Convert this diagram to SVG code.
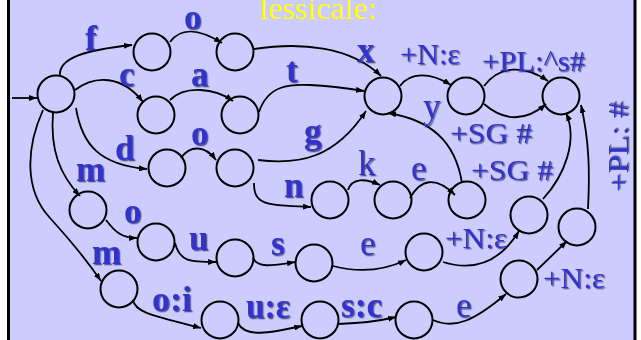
<svg xmlns="http://www.w3.org/2000/svg" width="641" height="340" viewBox="0 0 641 340">
<style>
.st{fill:none;stroke:#000;stroke-width:2}
.e{fill:none;stroke:#000;stroke-width:1.8;marker-end:url(#ah)}
.lb{font-family:"Liberation Serif","Times New Roman",serif;font-size:35px;fill:#3333cc;filter:url(#sh)}
.b{font-weight:bold}
.sm{font-size:29px}
.ttl{font-family:"Liberation Serif","Times New Roman",serif;font-size:32px;fill:#ffff00}
</style>
<defs>
<marker id="ah" markerUnits="userSpaceOnUse" markerWidth="8" markerHeight="6" refX="8" refY="3" orient="auto">
<path d="M0,0 L8,3 L0,6 z" fill="#000"/>
</marker>
<filter id="sh" x="-20%" y="-20%" width="140%" height="140%">
<feDropShadow dx="1.3" dy="1.3" stdDeviation="0.4" flood-color="#222244" flood-opacity="0.7"/>
</filter>
</defs>
<rect x="0" y="0" width="641" height="340" fill="#ffffff"/>
<rect x="8.5" y="-10" width="626.5" height="360" fill="#ccccff" stroke="#000" stroke-width="3"/>
<text class="ttl" x="259" y="19">lessicale:</text>

<g id="nodes">
<g id="n-start"><circle class="st" cx="56" cy="94" r="18.5"/></g>
<g id="n-f1"><circle class="st" cx="152" cy="52" r="18.5"/></g>
<g id="n-f2"><circle class="st" cx="235" cy="52" r="18.5"/></g>
<g id="n-c1"><circle class="st" cx="156" cy="115" r="18.5"/></g>
<g id="n-c2"><circle class="st" cx="240" cy="115" r="18.5"/></g>
<g id="n-d1"><circle class="st" cx="167" cy="168" r="18.5"/></g>
<g id="n-d2"><circle class="st" cx="235" cy="168" r="18.5"/></g>
<g id="n-hub"><circle class="st" cx="383" cy="96" r="18.5"/></g>
<g id="n-n1"><circle class="st" cx="466" cy="96" r="18.5"/></g>
<g id="n-final"><circle class="st" cx="561" cy="96" r="18.5"/></g>
<g id="n-k1"><circle class="st" cx="330" cy="200" r="18.5"/></g>
<g id="n-k2"><circle class="st" cx="393" cy="200" r="18.5"/></g>
<g id="n-k3"><circle class="st" cx="467" cy="200" r="18.5"/></g>
<g id="n-m1"><circle class="st" cx="88" cy="210" r="18.5"/></g>
<g id="n-m2"><circle class="st" cx="156" cy="242" r="18.5"/></g>
<g id="n-m3"><circle class="st" cx="235" cy="258" r="18.5"/></g>
<g id="n-m4"><circle class="st" cx="314" cy="263" r="18.5"/></g>
<g id="n-m5"><circle class="st" cx="424" cy="252" r="18.5"/></g>
<g id="n-m6"><circle class="st" cx="529" cy="215" r="18.5"/></g>
<g id="n-l1"><circle class="st" cx="119" cy="289" r="18.5"/></g>
<g id="n-l2"><circle class="st" cx="220" cy="320" r="18.5"/></g>
<g id="n-l3"><circle class="st" cx="320" cy="320" r="18.5"/></g>
<g id="n-l4"><circle class="st" cx="414" cy="320" r="18.5"/></g>
<g id="n-l5"><circle class="st" cx="519" cy="279" r="18.5"/></g>
<g id="n-l6"><circle class="st" cx="577" cy="227" r="18.5"/></g>
</g>

<g id="connectors">
<path class="e" d="M12,98 L37,98"/>
<path class="e" d="M60,76 C58,58 85,50 132,45"/>
<path class="e" d="M170,42 C180,28 198,28 222,43"/>
<path class="e" d="M254,49 C300,42 350,46 381,76"/>
<path class="e" d="M75,90 C95,75 122,75 143,102"/>
<path class="e" d="M170,100 C185,85 215,88 233,101"/>
<path class="e" d="M259,112 C268,85 290,84 310,85 C330,86 345,88 364,91"/>
<path class="e" d="M76,108 C82,145 100,165 147,169"/>
<path class="e" d="M181,158 C190,145 205,145 216,160"/>
<path class="e" d="M258,160 C300,165 335,158 366,111"/>
<path class="e" d="M254,183 C254,205 265,205 311,207"/>
<path class="e" d="M348,190 C352,178 365,178 380,185"/>
<path class="e" d="M410,198 C420,180 435,175 455,195"/>
<path class="e" d="M462,183 C455,140 430,120 388,113"/>
<path class="e" d="M400,86 C410,72 430,72 451,85"/>
<path class="e" d="M484,86 C500,65 525,65 548,81"/>
<path class="e" d="M484,104 C505,122 525,122 546,104"/>
<path class="e" d="M543,199 C565,175 578,140 566,113"/>
<path class="e" d="M588,209 C590,170 589,140 581,105"/>
<path class="e" d="M53,113 C50,150 60,175 80,196"/>
<path class="e" d="M43,110 C26,148 24,190 50,218 C70,240 88,262 101,281"/>
<path class="e" d="M106,220 C115,232 122,238 137,238"/>
<path class="e" d="M175,243 C180,262 190,262 216,262"/>
<path class="e" d="M253,258 C258,268 270,266 295,262"/>
<path class="e" d="M333,266 C360,273 385,270 406,260"/>
<path class="e" d="M443,262 C475,272 500,262 519,231"/>
<path class="e" d="M133,300 C135,312 150,315 201,328"/>
<path class="e" d="M238,323 C245,338 270,333 302,326"/>
<path class="e" d="M338,324 C360,323 375,322 396,317"/>
<path class="e" d="M433,320 C455,330 475,320 506,294"/>
<path class="e" d="M537,270 L567,241"/>
</g>

<g id="labels">
<text class="lb b" x="85" y="50">f</text>
<text class="lb b" x="184" y="29">o</text>
<text class="lb b" x="119" y="86">c</text>
<text class="lb b" x="191" y="86">a</text>
<text class="lb b" x="286" y="82">t</text>
<text class="lb b" x="357" y="62">x</text>
<text class="lb sm" x="400" y="64" textLength="60" lengthAdjust="spacingAndGlyphs">+N:ε</text>
<text class="lb sm" x="482" y="71" textLength="103" lengthAdjust="spacingAndGlyphs">+PL:^s#</text>
<text class="lb" x="423" y="118">y</text>
<text class="lb sm" x="450" y="143" textLength="82" lengthAdjust="spacingAndGlyphs">+SG #</text>
<text class="lb sm" x="471" y="180" textLength="82" lengthAdjust="spacingAndGlyphs">+SG #</text>
<text class="lb sm" transform="translate(628,192) rotate(-90)" x="0" y="0" textLength="90" lengthAdjust="spacingAndGlyphs">+PL: #</text>
<text class="lb b" x="115" y="160">d</text>
<text class="lb b" x="191" y="145">o</text>
<text class="lb b" x="304" y="143">g</text>
<text class="lb b" x="76" y="181">m</text>
<text class="lb b" x="284" y="197">n</text>
<text class="lb" x="358" y="175">k</text>
<text class="lb" x="411" y="180">e</text>
<text class="lb b" x="124" y="223">o</text>
<text class="lb b" x="189" y="250">u</text>
<text class="lb b" x="271" y="255">s</text>
<text class="lb" x="360" y="255">e</text>
<text class="lb sm" x="445" y="248" textLength="62" lengthAdjust="spacingAndGlyphs">+N:ε</text>
<text class="lb b" x="92" y="264">m</text>
<text class="lb sm" x="543" y="288" textLength="62" lengthAdjust="spacingAndGlyphs">+N:ε</text>
<text class="lb b" x="152" y="311" textLength="40" lengthAdjust="spacingAndGlyphs">o:i</text>
<text class="lb b" x="246" y="318" textLength="44" lengthAdjust="spacingAndGlyphs">u:ε</text>
<text class="lb b" x="341" y="317" textLength="41" lengthAdjust="spacingAndGlyphs">s:c</text>
<text class="lb" x="456" y="317">e</text>
</g>
</svg>
